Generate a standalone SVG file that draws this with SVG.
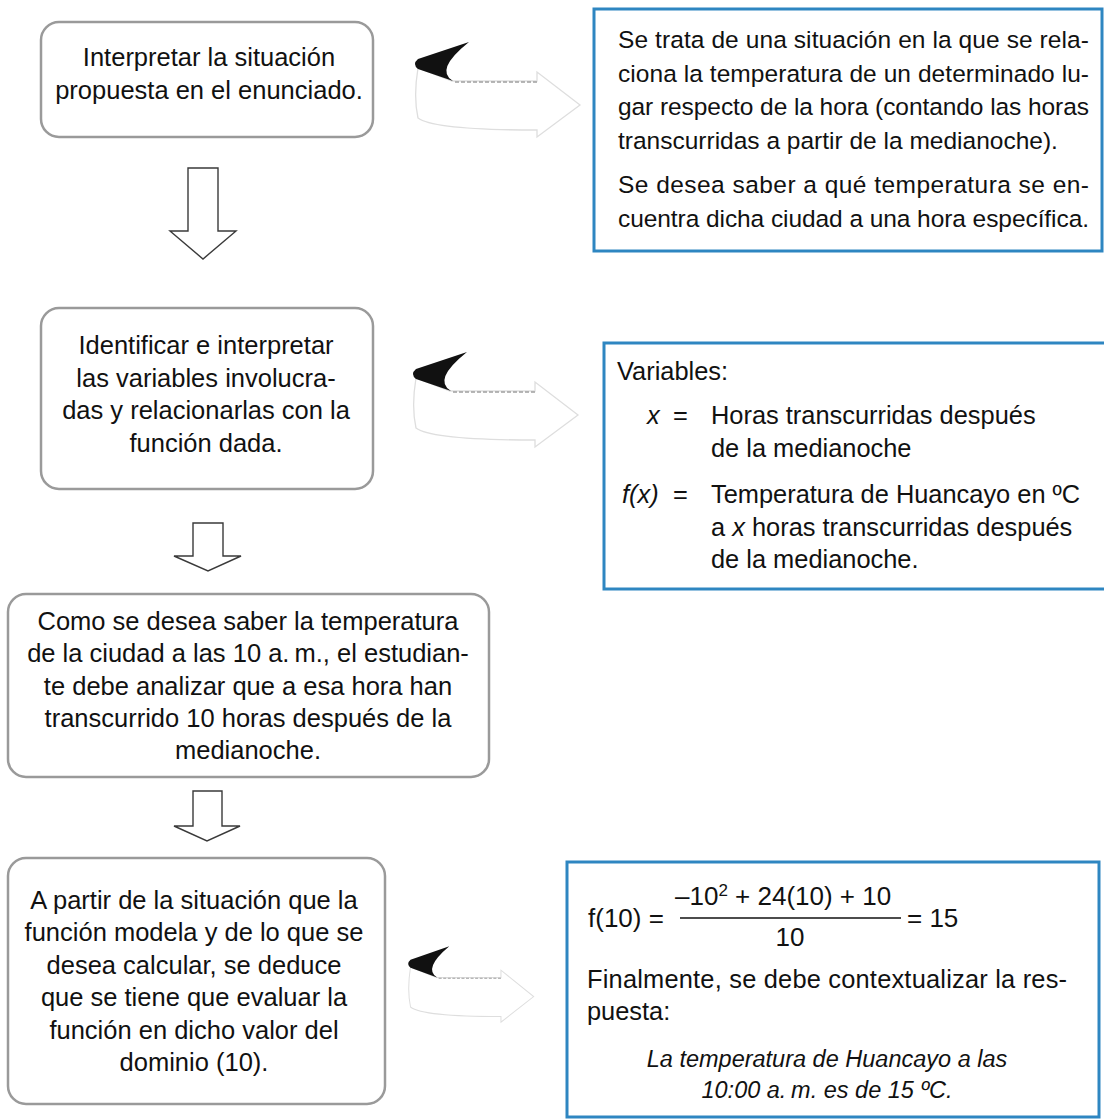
<svg xmlns="http://www.w3.org/2000/svg" width="1104" height="1119" viewBox="0 0 1104 1119">
<defs>
<style>
.step{fill:#fff;stroke:#9a9a9a;stroke-width:2.5}
.info{fill:#fff;stroke:#2e86c1;stroke-width:3}
.t{font-family:"Liberation Sans",Arial,sans-serif;fill:#111}
.l{font-size:25.5px;text-anchor:middle}
.r1{font-size:24.5px}
.r2{font-size:25.4px}
.r3{font-size:25.4px}
.fm{font-size:26px}
.it{font-style:italic}
.down{fill:#fff;stroke:#3a3a3a;stroke-width:1.4;stroke-linejoin:miter}
.wedge{fill:#111}
.body{fill:#fff;stroke:#dedede;stroke-width:1.3}
.dash{stroke:#a0a0a0;stroke-width:1.3;stroke-dasharray:4 2;fill:none}
</style>
<g id="curved">
<path class="body" d="M452,81 L537,81 L537,72 L580,105 L537,137 L537,130 C480,130 430,127 418,118 C414,100 416,80 418,68 Z"/>
<path class="dash" d="M455,82 L537,82"/>
<path class="wedge" d="M469,42 L418,59 Q412,64 418,69 L453,81 Q434,70 469,42 Z"/>
</g>
</defs>

<g id="connectors">
<polygon class="down" points="188,168 218,168 218,231 236,231 203,259 170,231 188,231"/>
<polygon class="down" points="193,523 223,523 223,556 241,556 208,571 174,556 193,556"/>
<polygon class="down" points="193,791 222,791 222,826 240,826 207,841 174,826 193,826"/>
<use href="#curved"/>
<use href="#curved" transform="translate(-2,310)"/>
<use href="#curved" transform="translate(409,947) scale(0.76,0.8) translate(-416,-43)"/>
</g>

<g id="step1">
<rect class="step" x="41" y="22" width="332" height="115" rx="18"/>
<text class="t l" x="209" y="66">Interpretar la situación</text>
<text class="t l" x="209" y="99">propuesta en el enunciado.</text>
</g>

<g id="info1">
<rect class="info" x="594" y="9" width="508" height="242"/>
<text class="t r1" x="618" y="48" textLength="471" lengthAdjust="spacing">Se trata de una situación en la que se rela-</text>
<text class="t r1" x="618" y="81.5" textLength="471" lengthAdjust="spacing">ciona la temperatura de un determinado lu-</text>
<text class="t r1" x="618" y="115" textLength="471" lengthAdjust="spacing">gar respecto de la hora (contando las horas</text>
<text class="t r1" x="618" y="148.5">transcurridas a partir de la medianoche).</text>
<text class="t r1" x="618" y="193" textLength="471" lengthAdjust="spacing">Se desea saber a qué temperatura se en-</text>
<text class="t r1" x="618" y="226.5" textLength="471" lengthAdjust="spacing">cuentra dicha ciudad a una hora específica.</text>
</g>

<g id="step2">
<rect class="step" x="41" y="308" width="332" height="181" rx="18"/>
<text class="t l" x="206" y="354">Identificar e interpretar</text>
<text class="t l" x="206" y="386.5">las variables involucra-</text>
<text class="t l" x="206" y="419">das y relacionarlas con la</text>
<text class="t l" x="206" y="451.5">función dada.</text>
</g>

<g id="info2">
<rect class="info" x="604" y="343" width="506" height="246"/>
<text class="t r2" x="617" y="380">Variables:</text>
<text class="t r2 it" x="647" y="424">x</text>
<text class="t r2" x="673" y="424">=</text>
<text class="t r2" x="711" y="424">Horas transcurridas después</text>
<text class="t r2" x="711" y="457">de la medianoche</text>
<text class="t r2 it" x="622" y="503">f(x)</text>
<text class="t r2" x="673" y="503">=</text>
<text class="t r2" x="711" y="503">Temperatura de Huancayo en ºC</text>
<text class="t r2" x="711" y="535.5">a <tspan class="it">x</tspan> horas transcurridas después</text>
<text class="t r2" x="711" y="568">de la medianoche.</text>
</g>

<g id="step3">
<rect class="step" x="8" y="594" width="481" height="183" rx="18"/>
<text class="t l" x="248" y="630">Como se desea saber la temperatura</text>
<text class="t l" x="248" y="662.3">de la ciudad a las 10 a.&#8201;m., el estudian-</text>
<text class="t l" x="248" y="694.6">te debe analizar que a esa hora han</text>
<text class="t l" x="248" y="726.9">transcurrido 10 horas después de la</text>
<text class="t l" x="248" y="759.2">medianoche.</text>
</g>

<g id="step4">
<rect class="step" x="8" y="858" width="377" height="246" rx="18"/>
<text class="t l" x="194" y="909">A partir de la situación que la</text>
<text class="t l" x="194" y="941.4">función modela y de lo que se</text>
<text class="t l" x="194" y="973.8">desea calcular, se deduce</text>
<text class="t l" x="194" y="1006.2">que se tiene que evaluar la</text>
<text class="t l" x="194" y="1038.6">función en dicho valor del</text>
<text class="t l" x="194" y="1071">dominio (10).</text>
</g>

<g id="info3">
<rect class="info" x="567" y="862" width="532" height="255"/>
<text class="t fm" x="588" y="927">f(10) =</text>
<text class="t fm" x="675" y="905">–10<tspan font-size="17" dy="-9">2</tspan><tspan dy="9"> + 24(10) + 10</tspan></text>
<line x1="680" y1="918" x2="901" y2="918" stroke="#111" stroke-width="1.5"/>
<text class="t fm" x="790" y="946" text-anchor="middle">10</text>
<text class="t fm" x="907" y="927">= 15</text>
<text class="t r3" x="587" y="988" textLength="480" lengthAdjust="spacing">Finalmente, se debe contextualizar la res-</text>
<text class="t r3" x="587" y="1020">puesta:</text>
<text class="t it" x="827" y="1067" font-size="23.5" text-anchor="middle">La temperatura de Huancayo a las</text>
<text class="t it" x="827" y="1098" font-size="23.5" text-anchor="middle">10:00 a.&#8201;m. es de 15 ºC.</text>
</g>
</svg>
